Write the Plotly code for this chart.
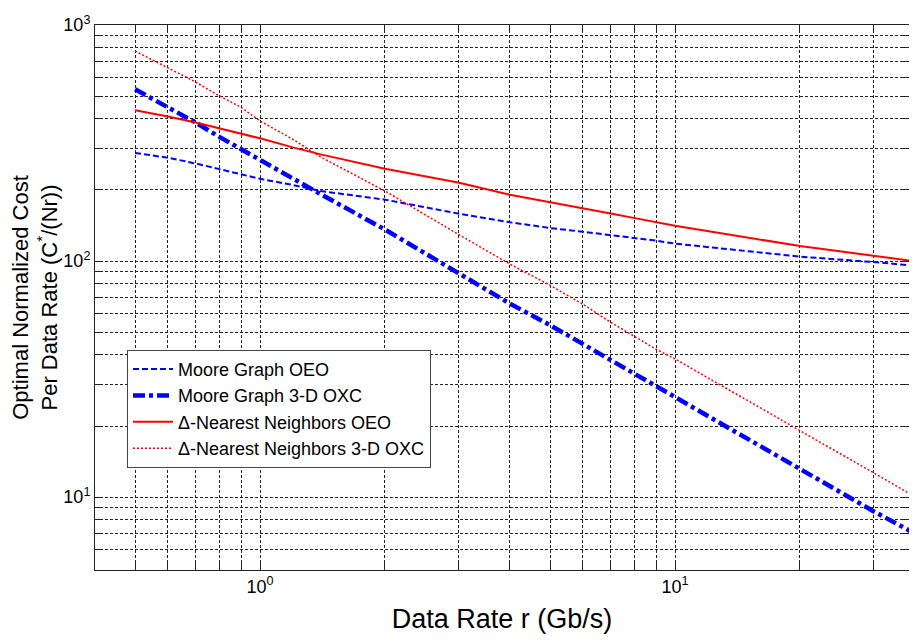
import plotly.graph_objects as go

# Data rate r (Gb/s)
rate = [0.5, 0.6, 0.7, 0.8, 0.9, 1.0, 1.2, 1.4, 2, 3, 4, 5, 6, 7, 8, 9, 10, 20, 30, 40]

moore_oeo = [287, 274, 259, 245, 233, 223, 210, 198, 182, 159, 146, 138, 133, 129, 125, 122, 118.5, 104.4, 99, 94.8]
moore_oxc = [534, 450, 386, 335, 298, 268, 222, 192, 136, 89.3, 66, 53.5, 44.5, 38, 33.6, 29.6, 26.5, 13.3, 8.73, 6.65]
nn_oeo = [435, 410, 386, 364, 347, 331, 303, 283, 246, 215, 191, 178, 167, 159, 152, 146, 141, 115.8, 105, 98.5]
nn_oxc = [776, 660, 573, 500, 448, 392, 328, 276, 198, 130, 97, 79, 65.6, 55, 48, 42.3, 38.5, 19.1, 12.7, 9.5]

series_names = ["Moore Graph OEO", "Moore Graph 3-D OXC",
                "\u0394-Nearest Neighbors OEO", "\u0394-Nearest Neighbors 3-D OXC"]

x_tickvals = [1, 10]
x_ticktext = ["10<sup>0</sup>", "10<sup>1</sup>"]
y_tickvals = [10, 100, 1000]
y_ticktext = ["10<sup>1</sup>", "10<sup>2</sup>", "10<sup>3</sup>"]
x_minor = [0.5, 0.6, 0.7, 0.8, 0.9, 2, 3, 4, 5, 6, 7, 8, 9, 20, 30]
y_minor = [6, 7, 8, 9, 20, 30, 40, 50, 60, 70, 80, 90, 200, 300, 400, 500, 600, 700, 800, 900]

FONT = "Arial, Liberation Sans, sans-serif"

fig = go.Figure()
styles = [
    dict(color="#0000ff", width=2, dash="6px,3px"),
    dict(color="#0000ff", width=4.5, dash="12px,4px,4px,4px"),
    dict(color="#ff0000", width=2, dash="solid"),
    dict(color="#ff0000", width=1.5, dash="2px,2px"),
]
for name, ys, st in zip(series_names, [moore_oeo, moore_oxc, nn_oeo, nn_oxc], styles):
    fig.add_trace(go.Scatter(x=rate, y=ys, mode="lines", name=name, line=st))

axis_common = dict(
    type="log",
    showline=True, linecolor="#222", linewidth=1, mirror="ticks",
    ticks="inside", ticklen=7, tickcolor="#222", tickwidth=1,
    showgrid=True, gridcolor="#222", gridwidth=1, griddash="3px,2px",
    zeroline=False,
    tickfont=dict(family=FONT, size=18, color="#000"),
)

fig.update_xaxes(
    **axis_common,
    range=[-0.3976, 1.5638],
    tickmode="array", tickvals=x_tickvals, ticktext=x_ticktext,
    minor=dict(tickmode="array", tickvals=x_minor, showgrid=True, gridcolor="#222",
               griddash="3px,2px", gridwidth=1, ticks="inside", ticklen=7, tickcolor="#222"),
    title=dict(text="Data Rate r (Gb/s)", font=dict(family=FONT, size=27, color="#000"), standoff=13),
)
fig.update_yaxes(
    **axis_common,
    range=[0.691, 3.0],
    tickmode="array", tickvals=y_tickvals, ticktext=y_ticktext,
    minor=dict(tickmode="array", tickvals=y_minor, showgrid=True, gridcolor="#222",
               griddash="3px,2px", gridwidth=1, ticks="inside", ticklen=7, tickcolor="#222"),
    title=dict(text="Optimal Normalized Cost<br>Per Data Rate (C<sup>*</sup>/(Nr))",
               font=dict(family=FONT, size=22, color="#000"), standoff=7),
)

fig.update_layout(
    width=901, height=626,
    margin=dict(l=87, r=0, t=17, b=64, autoexpand=False),
    paper_bgcolor="white", plot_bgcolor="white",
    font=dict(family=FONT, color="#000"),
    showlegend=True,
    legend=dict(
        x=0.0393, y=0.404, xanchor="left", yanchor="top",
        bgcolor="white", bordercolor="#444", borderwidth=1,
        font=dict(family=FONT, size=18, color="#000"),
        tracegroupgap=0, itemwidth=40,
    ),
)

fig.write_html("out.html")
